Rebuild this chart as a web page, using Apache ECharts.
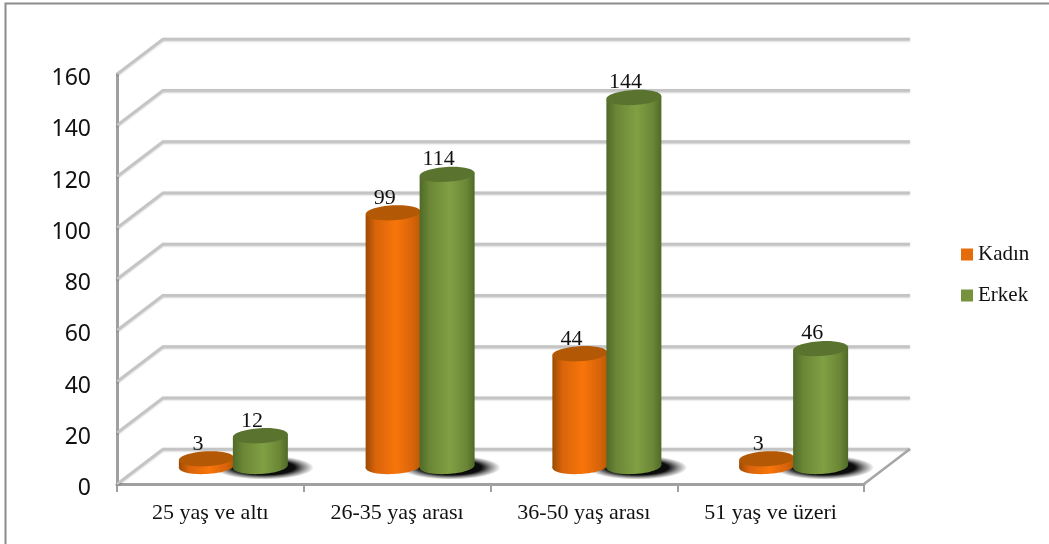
<!DOCTYPE html>
<html><head><meta charset="utf-8"><style>html,body{margin:0;padding:0;background:#fff}#c{width:1049px;height:544px}</style>
<script src="https://cdn.jsdelivr.net/npm/echarts@6/dist/echarts.min.js"></script></head>
<body><div id="c"></div>
<script>
const categories = ['25 yaş ve altı','26-35 yaş arası','36-50 yaş arası','51 yaş ve üzeri'];
const kadin = [3,99,44,3];
const erkek = [12,114,144,46];
const yTicks = [0,20,40,60,80,100,120,140,160];
const SERIF = '"Liberation Serif","DejaVu Serif",serif';
const DX = 46, DY = -35;           // full depth of the 3D box, in px
const BAR_R = 27.5, RY = 7.5, TILT = 1.6;

const chart = echarts.init(document.getElementById('c'));
const grad = (c0,c1,c2,c3) => ({type:'linear',x:0,y:0,x2:1,y2:0,colorStops:[
  {offset:0,color:c0},{offset:.18,color:c1},{offset:.55,color:c2},{offset:.85,color:c1},{offset:1,color:c3}]});

function cylinder(side, body, top){
  return function(params, api){
    const cat = api.value(0), val = api.value(1);
    const b = api.coord([cat,0]), t = api.coord([cat,val]);
    const cx = b[0] + DX/2 + side*BAR_R - side*0.5;
    const by = b[1] + DY/2, ty = t[1] + DY/2;
    return {type:'group',children:[
      {type:'ellipse',shape:{cx,cy:by,rx:BAR_R,ry:RY},rotation:TILT*Math.PI/90,originX:cx,originY:by,style:{fill:body}},
      {type:'polygon',shape:{points:[[cx-BAR_R,ty+TILT],[cx+BAR_R,ty-TILT],[cx+BAR_R,by-TILT],[cx-BAR_R,by+TILT]]},style:{fill:body}},
      {type:'ellipse',shape:{cx,cy:ty,rx:BAR_R,ry:RY},rotation:TILT*Math.PI/90,originX:cx,originY:ty,style:{fill:top}},
      {type:'text',x:cx-8.5,y:ty-15,style:{text:String(val),fill:'#111',font:'22px '+SERIF,align:'center',verticalAlign:'middle'}}
    ]};
  };
}
function shadow(params, api){
  const b = api.coord([api.value(0),0]);
  const cx = b[0] + DX/2 + BAR_R + 3, cy = b[1] + DY/2 + 1;
  return {type:'circle',shape:{cx,cy,r:50},scaleY:0.24,originX:cx,originY:cy,
    style:{fill:{type:'radial',x:.5,y:.5,r:.5,colorStops:[
      {offset:0,color:'rgba(0,0,0,1)'},{offset:.62,color:'rgba(0,0,0,.95)'},{offset:.8,color:'rgba(0,0,0,.45)'},{offset:1,color:'rgba(0,0,0,0)'}]}}};
}
function walls(params, api){
  const v = api.value(0);
  const x0 = params.coordSys.x, x1 = x0 + params.coordSys.width;
  const y = api.coord([0,v])[1];
  const kids = [
    {type:'polyline',shape:{points:[[x0,y],[x0+DX,y+DY],[x1+DX,y+DY]]},
     style:{fill:null,stroke:'#c4c4c4',lineWidth:2.6,shadowColor:'rgba(0,0,0,.25)',shadowBlur:2,shadowOffsetY:1}}
  ];
  if(v===0) kids.push({type:'line',shape:{x1:x1,y1:y,x2:x1+DX,y2:y+DY},style:{stroke:'#a6a6a6',lineWidth:2.6}});
  return {type:'group',children:kids};
}

chart.setOption({
  animation:false,
  backgroundColor:'#fff',
  graphic:[{type:'polyline',shape:{points:[[5.5,544],[5.5,3.5],[1049,3.5]]},style:{fill:null,stroke:'#8c8c8c',lineWidth:2},silent:true,z:0}],
  grid:{left:117,right:185,top:74,bottom:60},
  legend:{orient:'vertical',left:956,top:239,itemWidth:12,itemHeight:12,itemGap:20,icon:'rect',
    data:[{name:'Kadın',itemStyle:{color:'#E46C0A'}},{name:'Erkek',itemStyle:{color:'#76923C'}}],
    textStyle:{fontFamily:SERIF,fontSize:21,color:'#111'}},
  xAxis:{type:'category',data:categories,
    axisLine:{lineStyle:{color:'#a0a0a0',width:3}},
    axisTick:{show:true,alignWithLabel:false,length:8,lineStyle:{color:'#a0a0a0',width:2}},
    axisLabel:{fontFamily:SERIF,fontSize:22,color:'#111',margin:18},splitLine:{show:false}},
  yAxis:{type:'value',min:0,max:160,interval:20,
    axisLine:{show:true,lineStyle:{color:'#a0a0a0',width:3}},
    axisTick:{show:false},splitLine:{show:false},
    axisLabel:{fontFamily:'"Noto Sans"',fontSize:23,color:'#111',margin:26,verticalAlign:'top',lineHeight:9}},
  series:[
    {type:'custom',name:'walls',coordinateSystem:'cartesian2d',data:yTicks.map(v=>[v]),encode:{x:-1,y:0},renderItem:walls,z:1,silent:true,clip:false},
    {type:'custom',name:'shadow',data:erkek.map((v,i)=>[i,v]),encode:{x:0,y:1},renderItem:shadow,z:2,silent:true,clip:false},
    {type:'custom',name:'Kadın',data:kadin.map((v,i)=>[i,v]),encode:{x:0,y:1},z:3,clip:false,
      renderItem:cylinder(-1,grad('#9c4a03','#d9640a','#f8750a','#b85a05'),'#b35805'),itemStyle:{color:'#E46C0A'}},
    {type:'custom',name:'Erkek',data:erkek.map((v,i)=>[i,v]),encode:{x:0,y:1},z:4,clip:false,
      renderItem:cylinder(1,grad('#4f6a28','#6b8636','#80a044','#4f6a28'),'#5a7430'),itemStyle:{color:'#76923C'}}
  ]
});
</script></body></html>
